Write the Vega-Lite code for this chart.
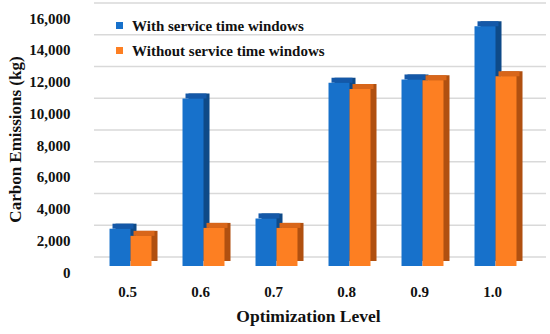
{
  "$schema": "https://vega.github.io/schema/vega-lite/v6.json",
  "width": 438,
  "height": 254,
  "autosize": "none",
  "padding": {"left": 94, "top": 12, "right": 18, "bottom": 68},
  "background": "white",
  "config": {
    "view": {"stroke": null},
    "font": "Liberation Serif",
    "axis": {"labelFont": "Liberation Serif", "titleFont": "Liberation Serif", "labelColor": "#111", "titleColor": "#111"},
    "axisX": {
      "titleFontSize": 17.5, "titleFontWeight": "bold", "titlePadding": 8, "titleX": 214,
      "labelAngle": 0, "labelFontSize": 15, "labelFontWeight": "bold", "labelOffset": -3, "labelPadding": 18,
      "ticks": false, "domain": false, "grid": false
    },
    "axisY": {
      "labelFontSize": 15, "labelFontWeight": "bold", "labelOffset": 6, "labelPadding": 24, "format": ",.0f",
      "titleFontSize": 17, "titleFontWeight": "bold", "titlePadding": 4,
      "ticks": false, "domain": false, "grid": false
    }
  },
  "datasets": {
    "emissions": [
      {"level": "0.5", "series": "With service time windows", "value": 2350},
      {"level": "0.5", "series": "Without service time windows", "value": 1900},
      {"level": "0.6", "series": "With service time windows", "value": 10550},
      {"level": "0.6", "series": "Without service time windows", "value": 2400},
      {"level": "0.7", "series": "With service time windows", "value": 3000},
      {"level": "0.7", "series": "Without service time windows", "value": 2400},
      {"level": "0.8", "series": "With service time windows", "value": 11550},
      {"level": "0.8", "series": "Without service time windows", "value": 11150},
      {"level": "0.9", "series": "With service time windows", "value": 11750},
      {"level": "0.9", "series": "Without service time windows", "value": 11700},
      {"level": "1.0", "series": "With service time windows", "value": 15100},
      {"level": "1.0", "series": "Without service time windows", "value": 11950}
    ],
    "grid": [
      {"value": 0}, {"value": 2000}, {"value": 4000}, {"value": 6000}, {"value": 8000},
      {"value": 10000}, {"value": 12000}, {"value": 14000}, {"value": 16000}
    ]
  },
  "layer": [
    {
      "data": {"name": "grid"},
      "mark": {"type": "rule", "color": "#d9d9d9", "strokeWidth": 1.5, "xOffset": 14, "x2Offset": 13, "yOffset": -9},
      "encoding": {
        "y": {
          "field": "value", "type": "quantitative", "scale": {"domain": [0, 16000], "nice": false},
          "axis": {"title": "Carbon Emissions (kg)", "values": [0, 2000, 4000, 6000, 8000, 10000, 12000, 14000, 16000]}
        }
      }
    },
    {
      "data": {"name": "emissions"},
      "mark": {"type": "bar", "yOffset": -5, "y2Offset": -5},
      "encoding": {
        "x": {"field": "level", "type": "nominal", "scale": {"paddingInner": 0.425, "paddingOuter": 0.2125}, "axis": {"title": "Optimization Level"}},
        "xOffset": {"field": "series", "type": "nominal", "scale": {"paddingInner": 0, "paddingOuter": 0, "range": [6, 48]}},
        "y": {
          "field": "value", "type": "quantitative",
          "axis": {"title": "Carbon Emissions (kg)", "values": [0, 2000, 4000, 6000, 8000, 10000, 12000, 14000, 16000]}
        },
        "color": {
          "field": "series", "type": "nominal",
          "scale": {"domain": ["With service time windows", "Without service time windows"], "range": ["#0e4a88", "#b05010"]},
          "legend": null
        }
      }
    },
    {
      "data": {"name": "emissions"},
      "mark": {"type": "bar", "yOffset": -5, "y2Offset": 0},
      "encoding": {
        "x": {"field": "level", "type": "nominal", "scale": {"paddingInner": 0.425, "paddingOuter": 0.2125}, "axis": {"title": "Optimization Level"}},
        "xOffset": {"field": "series", "type": "nominal", "scale": {"paddingInner": 0, "paddingOuter": 0, "range": [3, 45]}},
        "y": {
          "field": "value", "type": "quantitative",
          "axis": {"title": "Carbon Emissions (kg)", "values": [0, 2000, 4000, 6000, 8000, 10000, 12000, 14000, 16000]}
        },
        "y2": {"field": "value"},
        "color": {
          "field": "series", "type": "nominal",
          "scale": {"domain": ["With service time windows", "Without service time windows"], "range": ["#1458a8", "#d8661a"]},
          "legend": null
        }
      }
    },
    {
      "data": {"name": "emissions"},
      "mark": {"type": "bar"},
      "encoding": {
        "x": {"field": "level", "type": "nominal", "scale": {"paddingInner": 0.425, "paddingOuter": 0.2125}, "axis": {"title": "Optimization Level"}},
        "xOffset": {"field": "series", "type": "nominal", "scale": {"paddingInner": 0, "paddingOuter": 0}},
        "y": {
          "field": "value", "type": "quantitative",
          "axis": {"title": "Carbon Emissions (kg)", "values": [0, 2000, 4000, 6000, 8000, 10000, 12000, 14000, 16000]}
        },
        "color": {
          "field": "series", "type": "nominal",
          "scale": {"domain": ["With service time windows", "Without service time windows"], "range": ["#1771cb", "#fd7f22"]},
          "legend": {
            "orient": "none", "legendX": 18, "legendY": 6, "title": null,
            "symbolType": "square", "symbolSize": 49, "symbolStrokeWidth": 0,
            "labelFont": "Liberation Serif", "labelFontSize": 15, "labelFontWeight": "bold", "labelColor": "#111",
            "labelOffset": 5, "rowPadding": 9, "labelLimit": 0
          }
        }
      }
    }
  ],
  "resolve": {"scale": {"color": "independent", "xOffset": "independent"}}
}
